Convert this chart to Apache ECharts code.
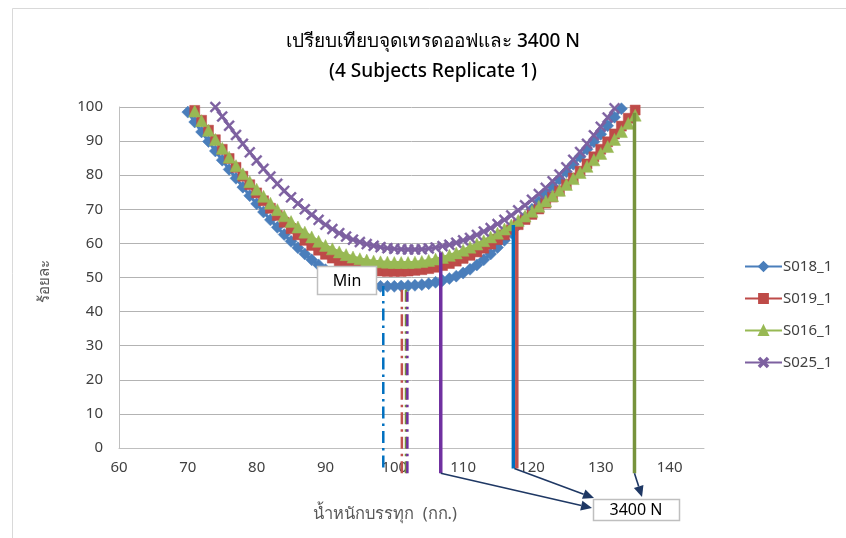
<!DOCTYPE html>
<html>
<head>
<meta charset="utf-8">
<script src="https://cdn.jsdelivr.net/npm/echarts@6/dist/echarts.min.js"></script>
<style>
  html, body { margin: 0; padding: 0; background: #ffffff; }
  #chart { width: 846px; height: 538px; }
</style>
</head>
<body>
<div id="chart"></div>
<script>
// Load (kg) at which each percentage was evaluated
const weights = [70, 71, 72, 73, 74, 75, 76, 77, 78, 79, 80, 81, 82, 83, 84, 85, 86, 87, 88, 89,
  90, 91, 92, 93, 94, 95, 96, 97, 98, 99, 100, 101, 102, 103, 104, 105, 106, 107, 108, 109,
  110, 111, 112, 113, 114, 115, 116, 117, 118, 119, 120, 121, 122, 123, 124, 125, 126, 127, 128, 129,
  130, 131, 132, 133, 134, 135];

// Percentage per subject (null where the subject has no value)
const s018 = [98.5, 95.6, 92.7, 89.9, 87.1, 84.4, 81.7, 79.1, 76.5, 74.0, 71.6, 69.2, 66.9, 64.7, 62.6, 60.6, 58.7, 56.9, 55.2, 53.7,
  52.3, 51.1, 50.1, 49.2, 48.5, 48.0, 47.7, 47.5, 47.4, 47.4, 47.4, 47.5, 47.6, 47.7, 47.9, 48.2, 48.6, 49.1, 49.7, 50.4,
  51.3, 52.4, 53.7, 55.2, 56.9, 58.8, 60.9, 63.1, 65.4, 67.7, 70.0, 72.2, 74.4, 76.6, 78.8, 81.0, 83.2, 85.4, 87.6, 89.8,
  92.0, 94.5, 97.0, 99.5, null, null];
const s019 = [null, 99.0, 96.1, 93.2, 90.4, 87.6, 84.9, 82.3, 79.7, 77.2, 74.8, 72.5, 70.3, 68.2, 66.2, 64.3, 62.5, 60.9, 59.4, 58.0,
  56.8, 55.7, 54.8, 54.0, 53.3, 52.8, 52.4, 52.1, 51.9, 51.8, 51.8, 51.8, 51.9, 52.1, 52.3, 52.6, 53.0, 53.5, 54.1, 54.8,
  55.6, 56.5, 57.5, 58.6, 59.8, 61.1, 62.5, 64.0, 65.5, 67.0, 68.5, 70.1, 71.8, 73.6, 75.4, 77.3, 79.2, 81.2, 83.3, 85.4,
  87.6, 89.8, 92.1, 94.4, 96.7, 99.1];
const s016 = [null, 98.8, 96.0, 93.2, 90.5, 87.9, 85.3, 82.8, 80.4, 78.1, 75.9, 73.8, 71.8, 69.9, 68.1, 66.4, 64.8, 63.3, 61.9, 60.6,
  59.4, 58.4, 57.5, 56.7, 56.0, 55.5, 55.1, 54.8, 54.6, 54.5, 54.4, 54.4, 54.4, 54.5, 54.7, 55.0, 55.4, 55.9, 56.5, 57.2,
  58.0, 58.9, 59.8, 60.8, 61.9, 63.0, 64.2, 65.4, 66.7, 68.0, 69.4, 70.9, 72.4, 74.0, 75.6, 77.3, 79.0, 80.8, 82.6, 84.5,
  86.4, 88.4, 90.5, 92.8, 95.2, 97.6];
const s025 = [null, null, null, null, 100.0, 97.2, 94.5, 91.8, 89.2, 86.7, 84.3, 81.9, 79.6, 77.5, 75.4, 73.5, 71.7, 70.0, 68.4, 66.9,
  65.5, 64.2, 63.0, 62.0, 61.1, 60.4, 59.8, 59.3, 58.9, 58.6, 58.4, 58.3, 58.2, 58.2, 58.3, 58.5, 58.8, 59.2, 59.6, 60.2,
  60.9, 61.6, 62.5, 63.5, 64.5, 65.7, 66.9, 68.2, 69.7, 71.2, 72.8, 74.5, 76.3, 78.2, 80.2, 82.3, 84.5, 86.8, 89.2, 91.7,
  94.2, 96.9, 99.6, null, null, null];

const subjectNames = ['S018_1', 'S019_1', 'S016_1', 'S025_1'];

// Trade-off (minimum) load per subject and the height of its drop line
const minLoads = [98.4, 101.1, 101.7, 101.9];
const minLineTops = [47.5, 47.5, 47.3, 45.8];
const minLineBottoms = [-5.7, -7.4, -7.4, -7.4];

// Load reaching 3400 N per subject and the height of its drop line
const n3400Loads = [117.3, 117.8, 134.9, 106.75];
const n3400LineTops = [65.4, 64.8, 98.3, 57.4];
const n3400LineBottoms = [-6.0, -6.0, -7.4, -7.4];

const xTicks = { min: 60, max: 145, step: 10 };
const yTicks = { min: 0, max: 100, step: 10 };

const seriesColors = ['#4A7EBB', '#BE4B48', '#98B954', '#7D60A0'];
const minLineColors = ['#0070C0', '#C0504D', '#77933C', '#7030A0'];
const n3400LineColors = ['#0070C0', '#C0504D', '#77933C', '#7030A0'];
const crossPath = 'path://M0,1.3L1.3,0L5,3.7L8.7,0L10,1.3L6.3,5L10,8.7L8.7,10L5,6.3L1.3,10L0,8.7L3.7,5Z';
const symbols = ['diamond', 'rect', 'triangle', crossPath];
const symbolSizes = [12, 10, 12, 11];

const labelFont = "'Noto Sans', 'DejaVu Sans', sans-serif";
const textColor = '#404040';

const chart = echarts.init(document.getElementById('chart'), null, { renderer: 'canvas' });

const curveData = [s018, s019, s016, s025];
const curveSeries = curveData.map((vals, i) => ({
  name: subjectNames[i],
  type: 'line',
  data: weights.map((w, k) => [w, vals[k]]).filter(p => p[1] !== null),
  symbol: symbols[i],
  symbolSize: symbolSizes[i],
  showAllSymbol: true,
  itemStyle: { color: seriesColors[i], borderColor: seriesColors[i], borderWidth: 0.5 },
  lineStyle: { color: seriesColors[i], width: 3 },
  emphasis: { disabled: true },
  animation: false,
  z: 2
}));

const dashDot = [12, 5, 2.5, 5];
const minSeries = minLoads.map((x, i) => ({
  name: 'min-' + subjectNames[i],
  type: 'line',
  data: [[x, minLineBottoms[i]], [x, minLineTops[i]]],
  showSymbol: false,
  symbol: 'none',
  clip: false,
  lineStyle: { color: minLineColors[i], width: 2.5, type: dashDot },
  emphasis: { disabled: true },
  silent: true,
  animation: false,
  z: 3
}));

const n3400Series = n3400Loads.map((x, i) => ({
  name: 'n3400-' + subjectNames[i],
  type: 'line',
  data: [[x, n3400LineBottoms[i]], [x, n3400LineTops[i]]],
  showSymbol: false,
  symbol: 'none',
  clip: false,
  lineStyle: { color: n3400LineColors[i], width: 3.5 },
  emphasis: { disabled: true },
  silent: true,
  animation: false,
  z: 4
}));

chart.setOption({
  animation: false,
  backgroundColor: '#ffffff',
  grid: { left: 119, top: 107, right: 142, bottom: 90, containLabel: false },
  legend: {
    data: subjectNames,
    orient: 'vertical',
    left: 744,
    top: 259,
    padding: 0,
    itemWidth: 37,
    itemHeight: 11,
    itemGap: 17,
    textStyle: { fontFamily: labelFont, fontSize: 15, color: textColor, padding: [0, 0, 0, -4] },
    selectedMode: false
  },
  xAxis: {
    type: 'value',
    min: xTicks.min,
    max: xTicks.max,
    interval: xTicks.step,
    axisLine: { show: true, lineStyle: { color: '#BFBFBF', width: 1 } },
    axisTick: { show: false },
    splitLine: { show: false },
    axisLabel: {
      margin: 12,
      fontFamily: labelFont,
      fontSize: 15,
      color: textColor,
      showMaxLabel: false,
      formatter: v => (v > 140 ? '' : String(v))
    }
  },
  yAxis: {
    type: 'value',
    min: yTicks.min,
    max: yTicks.max,
    interval: yTicks.step,
    axisLine: { show: true, lineStyle: { color: '#BFBFBF', width: 1 } },
    axisTick: { show: false },
    splitLine: { show: true, lineStyle: { color: '#B3B3B3', width: 1 } },
    axisLabel: { margin: 16, fontFamily: labelFont, fontSize: 15, color: textColor }
  },
  series: [...curveSeries, ...minSeries, ...n3400Series]
});

// Annotations: titles, boxes and arrows
const navy = '#1F3864';
function arrowShapes(p0, p1) {
  const dx = p1[0] - p0[0], dy = p1[1] - p0[1];
  const L = Math.hypot(dx, dy), ux = dx / L, uy = dy / L;
  const len = 11, w = 5;
  const bx = p1[0] - ux * len, by = p1[1] - uy * len;
  return [
    { type: 'line', z: 100, shape: { x1: p0[0], y1: p0[1], x2: bx, y2: by }, style: { stroke: navy, lineWidth: 1.6 } },
    { type: 'polygon', z: 100, shape: { points: [p1, [bx - uy * w, by + ux * w], [bx + uy * w, by - ux * w]] }, style: { fill: navy } }
  ];
}
const toPx = p => chart.convertToPixel({ xAxisIndex: 0, yAxisIndex: 0 }, p);
const purpleFoot = toPx([n3400Loads[3], n3400LineBottoms[3]]);
const blueFoot = toPx([n3400Loads[0], n3400LineBottoms[0]]);
const greenFoot = toPx([n3400Loads[2], n3400LineBottoms[2]]);

const graphics = [
  { type: 'rect', z: 0, shape: { x: 12.5, y: 8.5, width: 900, height: 600 }, style: { fill: 'none', stroke: '#D9D9D9', lineWidth: 1 } },
  { type: 'text', z: 100, style: { x: 433, y: 42, text: 'เปรียบเทียบจุดเทรดออฟและ 3400 N', align: 'center', verticalAlign: 'middle', font: "500 19px 'Noto Sans', sans-serif", fill: '#000000' } },
  { type: 'text', z: 100, style: { x: 433, y: 72, text: '(4 Subjects Replicate 1)', align: 'center', verticalAlign: 'middle', font: "500 19px 'Noto Sans', sans-serif", fill: '#000000' } },
  { type: 'text', z: 100, style: { x: 385, y: 514, text: 'น้ำหนักบรรทุก  (กก.)', align: 'center', verticalAlign: 'middle', font: "16.5px 'Noto Sans', sans-serif", fill: '#595959' } },
  { type: 'text', z: 100, rotation: Math.PI / 2, x: 45, y: 281, style: { x: 0, y: 0, text: 'ร้อยละ', align: 'center', verticalAlign: 'middle', font: "15px 'Noto Sans', sans-serif", fill: '#595959' } },
  { type: 'rect', z: 100, shape: { x: 317.5, y: 266.5, width: 59, height: 28 }, style: { fill: '#ffffff', stroke: '#BFBFBF', lineWidth: 1.5 } },
  { type: 'text', z: 101, style: { x: 347, y: 281, text: 'Min', align: 'center', verticalAlign: 'middle', font: "16px 'Noto Sans', sans-serif", fill: '#000000' } },
  { type: 'rect', z: 100, shape: { x: 593.5, y: 499.5, width: 86, height: 21 }, style: { fill: '#ffffff', stroke: '#BFBFBF', lineWidth: 1.5 } },
  { type: 'text', z: 101, style: { x: 636, y: 510.5, text: '3400 N', align: 'center', verticalAlign: 'middle', font: "16px 'Noto Sans', sans-serif", fill: '#000000' } },
  ...arrowShapes(purpleFoot, [592, 508]),
  ...arrowShapes([blueFoot[0] + 1, blueFoot[1]], [594, 498]),
  ...arrowShapes(greenFoot, [642, 497])
];
chart.setOption({ graphic: graphics });
</script>
</body>
</html>
